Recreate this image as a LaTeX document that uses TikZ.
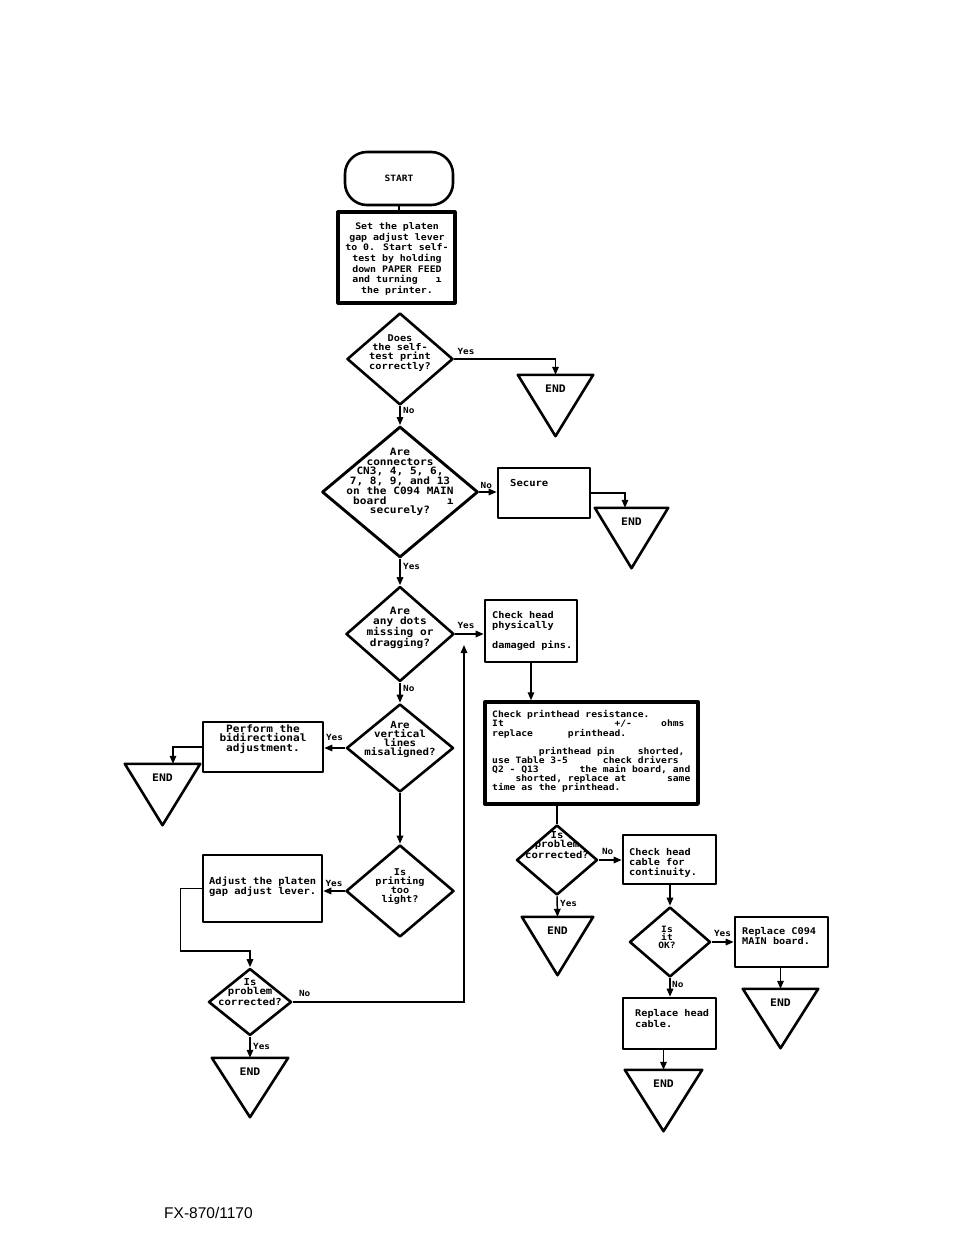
\documentclass[tikz,border=0pt]{standalone}
\usepackage{fontspec}
\usetikzlibrary{shapes.geometric,arrows.meta,calc}
\newfontfamily\tf[FakeStretch=1.1]{DejaVu Sans Mono Bold}
\newfontfamily\ff{Liberation Sans}
\newcommand\myfs[2]{\fontsize{#1}{#2}\selectfont}
\begin{document}
\begin{tikzpicture}[x=1pt,y=-1pt,
  shp/.style={draw, line width=2.6pt, line join=round},
  box/.style={shp, rectangle, inner sep=0pt},
  dia/.style={shp, diamond, inner sep=0pt},
  endbox/.style={rectangle, inner sep=0pt},
  con/.style={line width=1.5pt},
  arr/.style={con, -{Triangle[length=8pt,width=6.5pt]}},
  lbl/.style={font=\tf\myfs{8.5}{8}, inner sep=0pt, anchor=west},
  dt/.style={font=\tf\myfs{9.3}{9}, align=center, inner sep=0pt},
  bt/.style={font=\tf\myfs{9.3}{10}, align=left, inner sep=0pt, anchor=north west},
  et/.style={font=\tf\myfs{10.4}{10}, inner sep=0pt},
]
\useasboundingbox (0,0) rectangle (967,1252);
\fill[white] (0,0) rectangle (967,1252);

% START and first box
\node[box, rounded corners=22pt, minimum width=108pt, minimum height=53pt, font=\tf\myfs{8.7}{8}] (start) at (399,178.5) {START};
\node[box, line width=3.2pt, minimum width=117pt, minimum height=91pt] (b1) at (396.5,257.5) {};
\node[dt, font=\tf\myfs{9}{10.7}] (b1t) at (397,259) {Set the platen\\gap adjust lever\\to 0. Start self-\\test by holding\\down PAPER FEED\\and turning\phantom{xxx}ı\\the printer.};

% diamonds
\node[dia, minimum width=106pt, minimum height=92pt] (d1) at (400,359) {};
\node[dt] (d1t) at ($(d1)+(0,-6)$) {Does\\the self-\\test print\\correctly?};

\node[dia, line width=2.9pt, minimum width=156pt, minimum height=131pt] (d2) at (400,492) {};
\node[dt, font=\tf\myfs{10.1}{9.7}] (d2t) at ($(d2)+(0,-10)$) {Are\\connectors\\CN3, 4, 5, 6,\\7, 8, 9, and 13\\on the C094 MAIN\\\phantom{x}board\phantom{xxxxxxxxx}ı\\securely?};

\node[dia, minimum width=108pt, minimum height=95pt] (d3) at (400,634) {};
\node[dt, font=\tf\myfs{10.1}{9.8}] (d3t) at ($(d3)+(0,-6)$) {Are\\any dots\\missing or\\dragging?};

\node[dia, minimum width=107pt, minimum height=88pt] (d4) at (400,748) {};
\node[dt, font=\tf\myfs{9.8}{9}] (d4t) at ($(d4)+(0,-9)$) {Are\\vertical\\lines\\misaligned?};

\node[dia, minimum width=108pt, minimum height=92pt] (d5) at (400,891) {};
\node[dt, font=\tf\myfs{9.3}{9}] (d5t) at ($(d5)+(0,-4)$) {Is\\printing\\too\\light?};

\node[dia, minimum width=83pt, minimum height=67pt] (d6) at (250,1002) {};
\node[dt, font=\tf\myfs{9.6}{9}] (d6t) at ($(d6)+(0,-10)$) {Is\\problem\\corrected?};

\node[dia, minimum width=81pt, minimum height=70pt] (d7) at (557,860) {};
\node[dt, font=\tf\myfs{9.6}{9}] (d7t) at ($(d7)+(0,-15)$) {Is\\problem\\corrected?};

\node[dia, minimum width=81pt, minimum height=70pt] (d8) at (670,942) {};
\node[dt, font=\tf\myfs{8.7}{8}] (d8t) at ($(d8)+(-3,-5)$) {Is\\it\\OK?};

% boxes
\node[box, minimum width=92pt, minimum height=50pt] (sec) at (544,493) {};
\node[bt, font=\tf\myfs{9.6}{10}] (sect) at (510,479.5) {Secure};

\node[box, minimum width=92pt, minimum height=62pt] (ch) at (531,631) {};
\node[bt] (cht) at (492,611.5) {Check head\\physically\\\mbox{}\\damaged pins.};

\node[box, line width=3.4pt, minimum width=213pt, minimum height=102pt] (ph) at (591.5,753) {};
\node[bt, font=\tf\myfs{8.8}{9.1}] (pht) at (492,710.5) {Check printhead resistance.\\It\phantom{xxxxxxxxxxxxxxxxxxx}+/-\phantom{xxxxx}ohms\\replace\phantom{xxxxxx}printhead.\\\mbox{}\\\phantom{xxxxxxxx}printhead pin\phantom{xxxx}shorted,\\use Table 3-5\phantom{xxxxxx}check drivers\\Q2 - Q13\phantom{xxxxxxx}the main board, and\\\phantom{xxxx}shorted, replace at\phantom{xxxxxxx}same\\time as the printhead.};

\node[box, minimum width=120pt, minimum height=50pt] (bd) at (263,747) {};
\node[dt, font=\tf\myfs{10.1}{9.3}] (bdt) at (263,739) {Perform the\\bidirectional\\adjustment.};

\node[box, minimum width=119pt, minimum height=67pt] (adj) at (262.5,888.5) {};
\node[bt, font=\tf\myfs{9.5}{10}] (adjt) at (209,876.5) {Adjust the platen\\gap adjust lever.};

\node[box, minimum width=93pt, minimum height=49pt] (cab) at (669.5,859.5) {};
\node[bt] (cabt) at (629,848.5) {Check head\\cable for\\continuity.};

\node[box, minimum width=93pt, minimum height=50pt] (rep) at (781.5,942) {};
\node[bt, font=\tf\myfs{9.3}{9}] (rept) at (742,927.5) {Replace C094\\MAIN board.};

\node[box, minimum width=93pt, minimum height=51pt] (rhc) at (669.5,1023.5) {};
\node[bt, font=\tf\myfs{9.3}{11}] (rhct) at (635,1009.5) {Replace head\\cable.};

% END triangles
\node[endbox, minimum width=75pt, minimum height=61pt] (e1) at (555.5,405.5) {};
\node[endbox, minimum width=73pt, minimum height=60pt] (e2) at (631.5,538) {};
\node[endbox, minimum width=75pt, minimum height=61pt] (e3) at (162.5,794.5) {};
\node[endbox, minimum width=76pt, minimum height=59pt] (e4) at (250,1087.5) {};
\node[endbox, minimum width=71pt, minimum height=58pt] (e5) at (557.5,946) {};
\node[endbox, minimum width=75pt, minimum height=59pt] (e6) at (780.5,1018.5) {};
\node[endbox, minimum width=77pt, minimum height=61pt] (e7) at (663.5,1100.5) {};
\foreach \e in {e1,e2,e3,e4,e5,e6,e7}{
  \draw[shp] (\e.north west) -- (\e.north east) -- (\e.south) -- cycle;
  \node[et] (\e t) at ($(\e.north)+(0,14)$) {END};
}

% connectors
\draw[con] (start.south) -- (start.south |- b1.north);
\draw[arr] (d1.east) -| (e1.north);
\node[lbl] (l1) at ($(d1.east)+(3,-8)$) {Yes};
\draw[arr] (d1.south) -- (d2.north);
\node[lbl] (l2) at ($(d1.south)+(3,4)$) {No};
\draw[arr] (d2.east) -- (d2.east -| sec.west);
\node[lbl] (l3) at ($(d2.east)+(1,-7)$) {No};
\draw[arr] (sec.east) -| ($(e2.north)+(-6.5,0)$);
\draw[arr] (d2.south) -- (d3.north);
\node[lbl] (l4) at ($(d2.south)+(3,8)$) {Yes};
\draw[arr] (d3.east) -- (d3.east -| ch.west);
\node[lbl] (l5) at ($(d3.east)+(2,-9)$) {Yes};
\draw[arr] (ch.south) -- (ch.south |- ph.north);
\draw[arr] (d3.south) -- (d4.north);
\node[lbl] (l6) at ($(d3.south)+(3,6)$) {No};
\draw[arr] (d4.west) -- (d4.west -| bd.east);
\node[lbl, anchor=east] (l7) at ($(d4.west)+(-2,-11)$) {Yes};
\draw[arr] (bd.west) -| ($(e3.north)+(10.5,0)$);
\draw[arr] (d4.south) -- (d5.north);
\draw[arr] (d5.west) -- (d5.west -| adj.east);
\node[lbl, anchor=east] (l8) at ($(d5.west)+(-2,-8)$) {Yes};
\draw[arr] (adj.west) -- ++(-21,0) |- ($(d6.north)+(0,-16)$) -- (d6.north);
\coordinate (jn) at (464,645);
\draw[arr] (d6.east) -| (jn);
\node[lbl] (l9) at ($(d6.east)+(6,-9)$) {No};
\draw[arr] (d6.south) -- (e4.north);
\node[lbl] (l10) at ($(d6.south)+(3,10)$) {Yes};
\draw[con] (d7.north |- ph.south) -- (d7.north);
\draw[arr] (d7.east) -- (d7.east -| cab.west);
\node[lbl] (l11) at ($(d7.east)+(3,-9)$) {No};
\draw[arr] (d7.south) -- (e5.north);
\node[lbl] (l12) at ($(d7.south)+(3,7)$) {Yes};
\draw[arr] (d8.north |- cab.south) -- (d8.north);
\draw[arr] (d8.east) -- (d8.east -| rep.west);
\node[lbl] (l13) at ($(d8.east)+(2,-9)$) {Yes};
\draw[arr] (e6.north |- rep.south) -- (e6.north);
\draw[arr] (d8.south) -- (d8.south |- rhc.north);
\node[lbl] (l14) at ($(d8.south)+(2,6)$) {No};
\draw[arr] (e7.north |- rhc.south) -- (e7.north);

% footer
\node[font=\ff\myfs{15.5}{18}, anchor=west, inner sep=0pt] (foot) at (164,1213) {FX-870/1170};
\end{tikzpicture}
\end{document}
